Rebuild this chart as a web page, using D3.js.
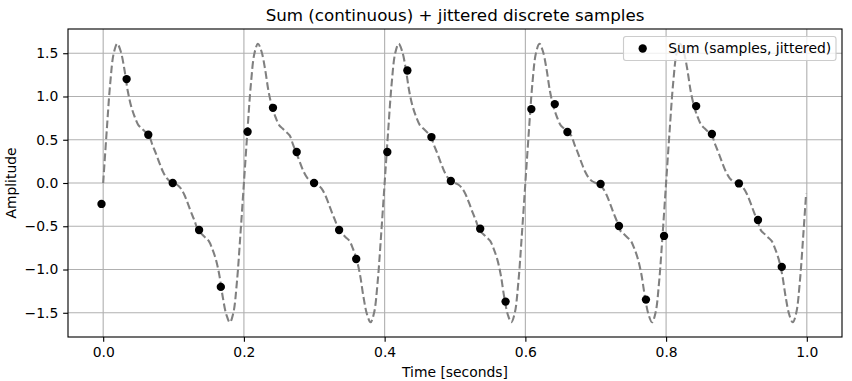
<!DOCTYPE html>
<html>
<head>
<meta charset="utf-8">
<script src="https://cdn.jsdelivr.net/npm/d3@7/dist/d3.min.js"></script>
<style>
  html, body { margin: 0; padding: 0; background: #fff; }
  svg { display: block; }
  text { font-family: "DejaVu Sans", sans-serif; }
</style>
</head>
<body>
<div id="chart"></div>
<script>
// ---- data ----
const title = "Sum (continuous) + jittered discrete samples";
const xLabel = "Time [seconds]";
const yLabel = "Amplitude";
const legendLabel = "Sum (samples, jittered)";

const xTicks = [0.0, 0.2, 0.4, 0.6, 0.8, 1.0];
const yTicks = [-1.5, -1.0, -0.5, 0.0, 0.5, 1.0, 1.5];

const lineStep = 0.005;
const lineY = [
  0, 0.60, 1.15, 1.50, 1.61, 1.52, 1.32, 1.06, 0.88, 0.76, 0.67, 0.63, 0.59, 0.55, 0.44, 0.34, 0.23, 0.13, 0.06, 0.02,
  0, -0.02, -0.06, -0.13, -0.23, -0.34, -0.44, -0.55, -0.59, -0.63, -0.67, -0.76, -0.88, -1.06, -1.32, -1.52, -1.61, -1.50, -1.15, -0.60,
  0, 0.60, 1.15, 1.50, 1.61, 1.52, 1.32, 1.06, 0.88, 0.76, 0.67, 0.63, 0.59, 0.55, 0.44, 0.34, 0.23, 0.13, 0.06, 0.02,
  0, -0.02, -0.06, -0.13, -0.23, -0.34, -0.44, -0.55, -0.59, -0.63, -0.67, -0.76, -0.88, -1.06, -1.32, -1.52, -1.61, -1.50, -1.15, -0.60,
  0, 0.60, 1.15, 1.50, 1.61, 1.52, 1.32, 1.06, 0.88, 0.76, 0.67, 0.63, 0.59, 0.55, 0.44, 0.34, 0.23, 0.13, 0.06, 0.02,
  0, -0.02, -0.06, -0.13, -0.23, -0.34, -0.44, -0.55, -0.59, -0.63, -0.67, -0.76, -0.88, -1.06, -1.32, -1.52, -1.61, -1.50, -1.15, -0.60,
  0, 0.60, 1.15, 1.50, 1.61, 1.52, 1.32, 1.06, 0.88, 0.76, 0.67, 0.63, 0.59, 0.55, 0.44, 0.34, 0.23, 0.13, 0.06, 0.02,
  0, -0.02, -0.06, -0.13, -0.23, -0.34, -0.44, -0.55, -0.59, -0.63, -0.67, -0.76, -0.88, -1.06, -1.32, -1.52, -1.61, -1.50, -1.15, -0.60,
  0, 0.60, 1.15, 1.50, 1.61, 1.52, 1.32, 1.06, 0.88, 0.76, 0.67, 0.63, 0.59, 0.55, 0.44, 0.34, 0.23, 0.13, 0.06, 0.02,
  0, -0.02, -0.06, -0.13, -0.23, -0.34, -0.44, -0.55, -0.59, -0.63, -0.67, -0.76, -0.88, -1.06, -1.32, -1.52, -1.61, -1.50, -1.15, -0.60
];
const lineEndT = 0.999;
const lineEndY = -0.12;

// jittered discrete samples
const sampleT = [-0.0024, 0.0333, 0.0641, 0.0988, 0.1363, 0.1672, 0.2052, 0.2413, 0.2750, 0.2997,
                 0.3353, 0.3596, 0.4038, 0.4323, 0.4665, 0.4941, 0.5358, 0.5719, 0.6085, 0.6418,
                 0.6598, 0.7069, 0.7330, 0.7714, 0.7971, 0.8427, 0.8651, 0.9035, 0.9306, 0.9644];
const sampleY = [-0.242, 1.201, 0.558, 0.000, -0.543, -1.201, 0.592, 0.869, 0.358, 0.000,
                 -0.543, -0.878, 0.358, 1.300, 0.531, 0.023, -0.528, -1.371, 0.854, 0.912,
                 0.589, -0.012, -0.497, -1.348, -0.612, 0.889, 0.566, -0.005, -0.427, -0.970];

// ---- layout ----
const W = 852, H = 381;
const m = { left: 68, top: 29, right: 10, bottom: 44 };
const iw = W - m.left - m.right;   // 774
const ih = H - m.top - m.bottom;   // 308
const FS = 13.9, TFS = 16.7, LW = 1.11;

const svg = d3.select("#chart").append("svg").attr("width", W).attr("height", H);
const g = svg.append("g").attr("transform", `translate(${m.left},${m.top})`);

const x = d3.scaleLinear().domain([-0.05, 1.05]).range([0, iw]);
const y = d3.scaleLinear().domain([-1.78, 1.78]).range([ih, 0]);

const fmt = v => d3.format(".1f")(v).replace("-", "\u2212");

// grid
g.append("g").selectAll("line").data(xTicks).join("line")
  .attr("x1", d => x(d)).attr("x2", d => x(d)).attr("y1", 0).attr("y2", ih)
  .attr("stroke", "#b0b0b0").attr("stroke-width", LW);
g.append("g").selectAll("line").data(yTicks).join("line")
  .attr("y1", d => y(d)).attr("y2", d => y(d)).attr("x1", 0).attr("x2", iw)
  .attr("stroke", "#b0b0b0").attr("stroke-width", LW);

// continuous line
const linePts = lineY.map((v, i) => [i * lineStep, v]).concat([[lineEndT, lineEndY]]);
const lineGen = d3.line().x(d => x(d[0])).y(d => y(d[1])).curve(d3.curveCatmullRom.alpha(0.5));
g.append("path").datum(linePts)
  .attr("d", lineGen)
  .attr("fill", "none")
  .attr("stroke", "#808080")
  .attr("stroke-width", 2.08)
  .attr("stroke-dasharray", "7.7,3.3");

// samples
g.append("g").selectAll("circle").data(sampleT.map((t, i) => [t, sampleY[i]])).join("circle")
  .attr("cx", d => x(d[0])).attr("cy", d => y(d[1])).attr("r", 4.17)
  .attr("fill", "#000");

// axes
const xAxis = d3.axisBottom(x).tickValues(xTicks).tickFormat(fmt).tickSize(4.86).tickPadding(5.6);
const yAxis = d3.axisLeft(y).tickValues(yTicks).tickFormat(fmt).tickSize(4.86).tickPadding(4.86);
const gx = g.append("g").attr("transform", `translate(0,${ih})`).call(xAxis);
const gy = g.append("g").call(yAxis);
[gx, gy].forEach(a => {
  a.select(".domain").remove();
  a.selectAll(".tick line").attr("stroke", "#000").attr("stroke-width", LW);
  a.selectAll(".tick text").attr("fill", "#000").style("font-size", FS + "px")
    .style("font-family", "'DejaVu Sans', sans-serif");
});

// spines
g.append("rect").attr("x", 0).attr("y", 0).attr("width", iw).attr("height", ih)
  .attr("fill", "none").attr("stroke", "#000").attr("stroke-width", LW);

// labels
svg.append("text").attr("x", m.left + iw / 2).attr("y", 20.5)
  .attr("text-anchor", "middle").style("font-size", TFS + "px").text(title);
svg.append("text").attr("x", m.left + iw / 2).attr("y", 377)
  .attr("text-anchor", "middle").style("font-size", FS + "px").text(xLabel);
svg.append("text").attr("transform", `translate(16,${m.top + ih / 2}) rotate(-90)`)
  .attr("text-anchor", "middle").style("font-size", FS + "px").text(yLabel);

// legend
const lg = svg.append("g");
lg.append("rect").attr("x", 623.5).attr("y", 36.5).attr("width", 212.5).attr("height", 24)
  .attr("rx", 2.5).attr("ry", 2.5)
  .attr("fill", "#fff").attr("fill-opacity", 0.8)
  .attr("stroke", "#cccccc").attr("stroke-width", LW);
lg.append("circle").attr("cx", 642.7).attr("cy", 48.5).attr("r", 4.17).attr("fill", "#000");
lg.append("text").attr("x", 668.3).attr("y", 52.8).style("font-size", FS + "px").text(legendLabel);
</script>
</body>
</html>
